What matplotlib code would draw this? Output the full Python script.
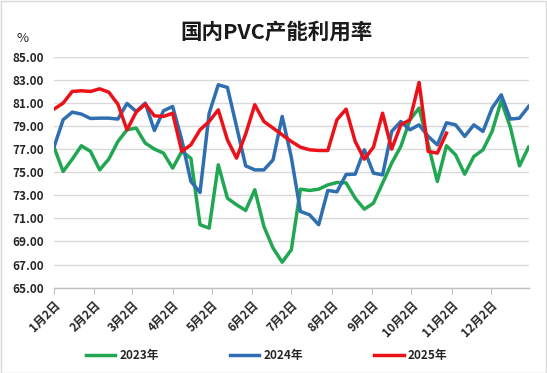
import matplotlib
matplotlib.use("Agg")
import matplotlib.pyplot as plt
import matplotlib.dates as mdates
from matplotlib.patches import Rectangle
import pandas as pd
import numpy as np

plt.rcParams['font.family'] = ['Noto Sans CJK SC', 'DejaVu Sans']

title = "国内PVC产能利用率"
y_unit = "%"
series_names = ["2023年", "2024年", "2025年"]

# weekly category dates (shared axis)
dates = pd.date_range("2024-01-02", periods=53, freq="7D")

y2023 = [77.17, 75.06, 76.13, 77.29, 76.80, 75.20, 76.13, 77.66, 78.67, 78.82,
         77.52, 77.00, 76.65, 75.35, 76.80, 76.20, 70.45, 70.16, 75.64, 72.75,
         72.18, 71.69, 73.48, 70.30, 68.43, 67.21, 68.28, 73.53, 73.42, 73.53,
         73.90, 74.11, 74.08, 72.75, 71.80, 72.32, 74.05, 75.79, 77.23, 79.54,
         80.55, 77.40, 74.20, 77.29, 76.50, 74.83, 76.36, 76.94, 78.53, 81.18,
         78.90, 75.55, 77.17]

y2024 = [77.17, 79.54, 80.20, 80.03, 79.65, 79.68, 79.68, 79.60, 80.95, 80.26,
         80.98, 78.61, 80.32, 80.69, 77.80, 74.20, 73.25, 80.10, 82.57, 82.34,
         78.96, 75.55, 75.20, 75.20, 76.07, 79.83, 76.30, 71.60, 71.31, 70.45,
         73.42, 73.30, 74.80, 74.83, 76.94, 74.92, 74.77, 78.53, 79.39, 78.67,
         79.10, 78.10, 77.37, 79.28, 79.10, 78.10, 79.10, 78.53, 80.55, 81.70,
         79.60, 79.68, 80.69]

y2025 = [80.46, 80.98, 81.99, 82.05, 81.99, 82.22, 81.93, 80.89, 78.67, 80.20,
         80.89, 79.88, 79.83, 80.11, 76.80, 77.37, 78.67, 79.39, 80.40, 77.80,
         76.22, 78.30, 80.84, 79.39, 78.82, 78.24, 77.66, 77.17, 76.94, 76.88,
         76.88, 79.54, 80.46, 77.66, 76.13, 77.17, 80.11, 77.00, 79.10, 79.54,
         82.77, 76.80, 76.65, 78.38]

tick_months = list(range(1, 13))
y_ticks = [65, 67, 69, 71, 73, 75, 77, 79, 81, 83, 85]

colors = ["#21A652", "#2F6EB0", "#EC1119"]

W, H = 547, 373
fig = plt.figure(figsize=(W / 100, H / 100), dpi=100)
fig.patch.set_facecolor("white")

left, right = 54.0, 528.6
top, bottom = 56.7, 287.7
ax = fig.add_axes([left / W, 1 - bottom / H, (right - left) / W, (bottom - top) / H])

lw = 2.5
ax.plot(dates, y2023, color=colors[0], lw=lw, label=series_names[0], solid_joinstyle="round")
ax.plot(dates, y2024, color=colors[1], lw=lw, label=series_names[1], solid_joinstyle="round")
ax.plot(dates[:len(y2025)], y2025, color=colors[2], lw=lw, label=series_names[2], solid_joinstyle="round")

ax.set_ylim(65, 85)
ax.set_yticks(y_ticks)
ax.set_yticklabels([f"{v:.2f}" for v in y_ticks])
ax.set_xlim(dates[0], dates[-1])

tick_dates = [pd.Timestamp(2024, m, 2) for m in tick_months]
ax.set_xticks(tick_dates)
ax.set_xticklabels([f"{m}月2日" for m in tick_months], rotation=45, ha="right",
                   rotation_mode="anchor")

ax.grid(axis="y", color="#D9D9D9", lw=1)
ax.set_axisbelow(True)
for s in ["left", "right", "top"]:
    ax.spines[s].set_visible(False)
ax.spines["bottom"].set_color("#BFBFBF")
ax.spines["bottom"].set_linewidth(1)
ax.tick_params(axis="y", length=0, pad=7, labelsize=8.5)
ax.tick_params(axis="x", length=4, color="#BFBFBF", direction="out", pad=4, labelsize=8.5)
for lab in ax.get_xticklabels() + ax.get_yticklabels():
    lab.set_fontweight("bold")
    lab.set_color("#262626")

fig.text(276.5 / W, 1 - 32 / H, title, ha="center", va="center", fontsize=15.5,
         fontweight="bold", color="#1a1a1a")
fig.text(23 / W, 1 - 39 / H, y_unit, ha="center", va="center", fontsize=9.5, color="#262626")

leg = fig.legend(loc="center", bbox_to_anchor=(266.6 / W, 1 - 355.5 / H), ncol=3,
                 frameon=False, fontsize=8.5, handlelength=2.5, handletextpad=0.35,
                 columnspacing=6.0)
for t in leg.get_texts():
    t.set_fontweight("bold")
    t.set_color("#262626")

fig.patches.append(Rectangle((0.5 / W, 0.5 / H), 1 - 1.5 / W, 1 - 1.5 / H,
                             transform=fig.transFigure, fill=False,
                             edgecolor="#D9D9D9", lw=1))

fig.savefig("out.png", dpi=100, facecolor="white")
